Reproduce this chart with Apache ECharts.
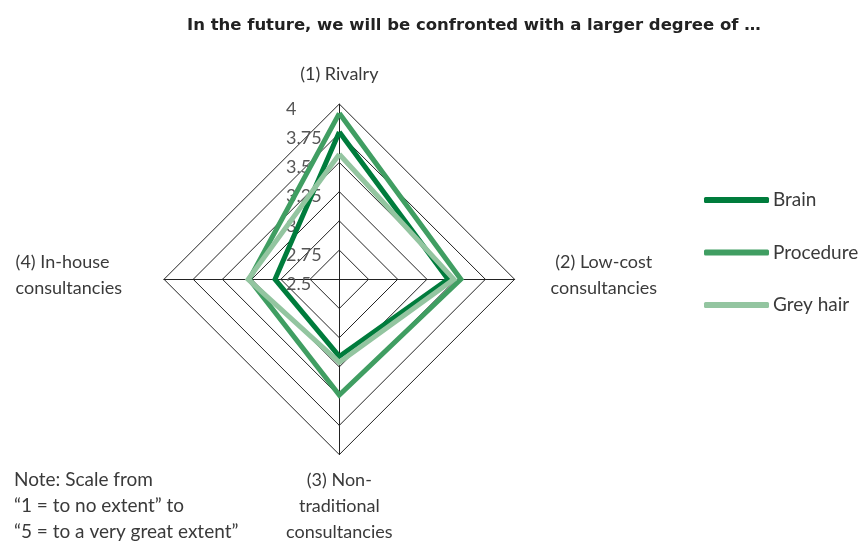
<!DOCTYPE html>
<html>
<head>
<meta charset="utf-8">
<script src="https://cdn.jsdelivr.net/npm/echarts@6/dist/echarts.min.js"></script>
<style>
  html, body { margin: 0; padding: 0; background: #fff; }
  #chart { width: 862px; height: 541px; }
</style>
</head>
<body>
<div id="chart"></div>
<script>
// Dimensions, listed clockwise from the top
const categories = [
  '(1) Rivalry',
  '(2) Low-cost\nconsultancies',
  '(3) Non-\ntraditional\nconsultancies',
  '(4) In-house\nconsultancies'
];
const seriesNames = ['Brain', 'Procedure', 'Grey hair'];
const brain     = [3.76, 3.43, 3.16, 3.05];
const procedure = [3.92, 3.54, 3.49, 3.27];
const greyHair  = [3.57, 3.48, 3.21, 3.28];
const scaleMin = 2.5;
const scaleMax = 4;
const scaleStep = 0.25;
const title = 'In the future, we will be confronted with a larger degree of \u2026';
const note = 'Note: Scale from\n\u201C1 = to no extent\u201D to\n\u201C5 = to a very great extent\u201D';

const colors = ['#007c3c', '#409e62', '#93c5a0'];
const FONT = 'Lato, "Open Sans", sans-serif';
const TEXT = '#3a3a3a';

// ECharts lays radar axes out counter-clockwise, so walk the list in that order
const order = [0, 3, 2, 1];
const richKeys = ['top', 'left', 'bottom', 'right'];
const indicator = order.map(i => ({ name: categories[i], min: scaleMin, max: scaleMax }));
const pick = arr => order.map(i => arr[i]);
const values = [brain, procedure, greyHair];

const center = [339.3, 279.3];
const radius = 175.3;
// the value scale is printed slightly below each ring level
const labelDrop = 5;

const nameStyle = { fontFamily: FONT, fontSize: 18, lineHeight: 26, color: TEXT };

const chart = echarts.init(document.getElementById('chart'), null, { renderer: 'canvas' });
chart.setOption({
  animation: false,
  backgroundColor: '#ffffff',
  title: [
    {
      text: title,
      left: 182, top: 12,
      padding: 5,
      textStyle: { fontFamily: '"DejaVu Sans", "Open Sans", sans-serif', fontWeight: 'bold', fontSize: 16.5, color: '#222' }
    },
    {
      text: note,
      left: 9, top: 462,
      padding: 5,
      textStyle: { fontFamily: FONT, fontWeight: 'normal', fontSize: 19, lineHeight: 25.8, color: TEXT }
    }
  ],
  legend: {
    orient: 'vertical',
    left: 699, top: 185,
    icon: 'roundRect',
    itemWidth: 65, itemHeight: 6,
    itemGap: 32.5,
    data: seriesNames,
    textStyle: { fontFamily: FONT, fontSize: 19, lineHeight: 20, color: TEXT, padding: [0, 0, 0, -1] }
  },
  // value scale printed beside the top axis
  grid: { left: 286, top: center[1] - radius + labelDrop, height: radius, width: 10, containLabel: false },
  xAxis: { type: 'value', show: false },
  yAxis: {
    type: 'value',
    min: scaleMin, max: scaleMax, interval: scaleStep,
    axisLine: { show: false }, axisTick: { show: false }, splitLine: { show: false },
    axisLabel: {
      inside: true, margin: 0, align: 'left',
      fontFamily: FONT, fontSize: 18, color: '#555'
    },
    z: 0
  },
  radar: {
    center: center,
    radius: radius,
    startAngle: 90,
    shape: 'polygon',
    splitNumber: 6,
    indicator: indicator,
    nameGap: 13,
    axisName: Object.assign({}, nameStyle, {
      formatter: function (name) {
        const idx = indicator.findIndex(d => d.name === name);
        const key = richKeys[idx];
        let txt = name.split('\n').map(l => '{' + key + '|' + l + '}').join('\n');
        // side labels sit a little above the horizontal axis
        if (key === 'left' || key === 'right') txt += '\n{gap| }';
        return txt;
      },
      rich: {
        top:    Object.assign({}, nameStyle, { padding: [0, 0, 8, 0] }),
        bottom: Object.assign({}, nameStyle),
        right:  Object.assign({}, nameStyle, { padding: [0, 0, 0, 23], align: 'center' }),
        left:   Object.assign({}, nameStyle, { padding: [0, 29, 0, 0], align: 'left' }),
        gap:    { fontSize: 1, lineHeight: 8 }
      }
    }),
    axisLine: { lineStyle: { color: '#222', width: 1 } },
    splitLine: { lineStyle: { color: '#222', width: 1 } },
    splitArea: { show: false }
  },
  series: [{
    type: 'radar',
    symbol: 'none',
    z: 3,
    data: seriesNames.map((n, k) => ({
      name: n,
      value: pick(values[k]),
      itemStyle: { color: colors[k] },
      lineStyle: { color: colors[k], width: 5, join: 'miter' }
    }))
  }]
});
</script>
</body>
</html>
